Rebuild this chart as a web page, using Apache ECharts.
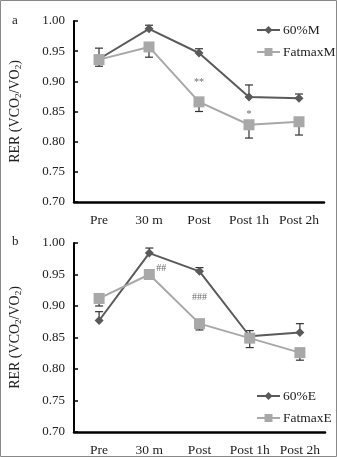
<!DOCTYPE html>
<html><head><meta charset="utf-8">
<script src="https://cdn.jsdelivr.net/npm/echarts@6/dist/echarts.min.js"></script>
<style>html,body{margin:0;padding:0;background:#fff}#c{width:337px;height:457px}</style>
</head><body><div id="c"></div>
<script>
const categories = ['Pre', '30 m', 'Post', 'Post 1h', 'Post 2h'];
const yTicks = [0.70, 0.75, 0.80, 0.85, 0.90, 0.95, 1.00];
// Panel a
const m60M = [0.937, 0.987, 0.947, 0.874, 0.872];
const m60MErr = [-0.012, 0.006, 0.007, 0.020, 0.007];
const fatM = [0.936, 0.957, 0.866, 0.828, 0.833];
const fatMErr = [0.019, -0.017, -0.016, -0.022, -0.022];
const annotA = [{cat: 2, y: 0.898, text: '**'}, {cat: 3, y: 0.846, text: '*'}];
// Panel b
const m60E = [0.877, 0.984, 0.955, 0.852, 0.858];
const m60EErr = [0.014, 0.008, 0.006, 0.009, 0.014];
const fatE = [0.912, 0.950, 0.872, 0.849, 0.826];
const fatEErr = [-0.012, 0, -0.010, -0.015, -0.012];
const annotB = [{cat: 1, y: 0.960, text: '##', dx: 12}, {cat: 2, y: 0.913, text: '###', dx: 0}];

const FONT = '"Liberation Serif", "DejaVu Serif", serif';
const DARK = '#5a5a5a', LIGHT = '#a8a8a8';

function errData(means, errs) {
  return means.map((m, i) => [i, m, m + errs[i]]);
}
function errSeries(means, errs, idx) {
  return {
    type: 'custom', xAxisIndex: idx, yAxisIndex: idx, z: 1, silent: true,
    data: errData(means, errs),
    renderItem: function (params, api) {
      const x = api.value(0);
      const a = api.coord([x, api.value(1)]);
      const b = api.coord([x, api.value(2)]);
      if (Math.abs(a[1] - b[1]) < 0.5) return null;
      const w = 4;
      const st = {stroke: '#333', lineWidth: 1.2};
      return {type: 'group', children: [
        {type: 'line', shape: {x1: a[0], y1: a[1], x2: b[0], y2: b[1]}, style: st},
        {type: 'line', shape: {x1: b[0] - w, y1: b[1], x2: b[0] + w, y2: b[1]}, style: st}
      ]};
    }
  };
}
function lineSeries(name, data, idx, sym, size, color) {
  return {
    name: name, type: 'line', xAxisIndex: idx, yAxisIndex: idx, data: data,
    symbol: sym, symbolSize: size, z: 3,
    itemStyle: {color: color}, lineStyle: {color: color, width: 2}
  };
}
function annotSeries(list, idx) {
  return {
    type: 'scatter', xAxisIndex: idx, yAxisIndex: idx, symbolSize: 0, silent: true, z: 4,
    data: list.map(d => ({value: [d.cat, d.y], name: d.text,
      label: {offset: [d.dx || 0, 0]}})),
    label: {show: true, position: 'inside', formatter: p => p.name,
      fontFamily: FONT, fontSize: 10, color: '#444'}
  };
}
function xAxis(idx) {
  return {
    type: 'category', gridIndex: idx, data: categories, boundaryGap: true,
    axisLine: {lineStyle: {color: '#000', width: 2.5}},
    axisTick: {show: false},
    axisLabel: {interval: 0, fontFamily: FONT, fontSize: 13.5, color: '#222', margin: 11}
  };
}
function yAxis(idx) {
  return {
    type: 'value', gridIndex: idx, min: yTicks[0], max: yTicks[yTicks.length - 1], interval: 0.05,
    axisLine: {show: true, lineStyle: {color: '#000', width: 2}},
    axisTick: {show: true, inside: true, length: 4, lineStyle: {color: '#000', width: 1.5}},
    splitLine: {show: false},
    axisLabel: {fontFamily: FONT, fontSize: 13, color: '#222', margin: 9,
      formatter: v => v.toFixed(2)},
    name: '{a|RER (VCO}{s|2}{a|/VO}{s|2}{a|)}',
    nameLocation: 'middle', nameGap: 51,
    nameTextStyle: {rich: {
      a: {fontFamily: FONT, fontSize: 14, color: '#222', lineHeight: 16, verticalAlign: 'middle'},
      s: {fontFamily: FONT, fontSize: 9, color: '#222', lineHeight: 16, verticalAlign: 'bottom'}
    }}
  };
}

const chart = echarts.init(document.getElementById('c'), null, {renderer: 'canvas'});
chart.setOption({
  backgroundColor: '#fff',
  animation: false,
  grid: [
    {left: 73, top: 21, width: 251, height: 181},
    {left: 73, top: 243, width: 252, height: 189}
  ],
  xAxis: [xAxis(0), xAxis(1)],
  yAxis: [yAxis(0), yAxis(1)],
  legend: [
    {data: ['60%M', 'FatmaxM'], orient: 'vertical', left: 251, top: 18, itemWidth: 23, itemHeight: 10, itemGap: 8,
      textStyle: {fontFamily: FONT, fontSize: 13.5, color: '#222', padding: [0, 0, 0, -2]}},
    {data: ['60%E', 'FatmaxE'], orient: 'vertical', left: 251, top: 384, itemWidth: 23, itemHeight: 10, itemGap: 8,
      textStyle: {fontFamily: FONT, fontSize: 13.5, color: '#222', padding: [0, 0, 0, -2]}}
  ],
  graphic: [
    {type: 'rect', shape: {x: 0.5, y: 0.5, width: 336, height: 456}, style: {fill: null, stroke: '#888', lineWidth: 1}, silent: true},
    {type: 'text', left: 12, top: 14, style: {text: 'a', font: '13px ' + FONT, fill: '#222'}},
    {type: 'text', left: 12, top: 235, style: {text: 'b', font: '13px ' + FONT, fill: '#222'}}
  ],
  series: [
    errSeries(m60M, m60MErr, 0),
    errSeries(fatM, fatMErr, 0),
    lineSeries('60%M', m60M, 0, 'diamond', 9, DARK),
    lineSeries('FatmaxM', fatM, 0, 'rect', 11, LIGHT),
    annotSeries(annotA, 0),
    errSeries(m60E, m60EErr, 1),
    errSeries(fatE, fatEErr, 1),
    lineSeries('60%E', m60E, 1, 'diamond', 9, DARK),
    lineSeries('FatmaxE', fatE, 1, 'rect', 11, LIGHT),
    annotSeries(annotB, 1)
  ]
});
</script></body></html>
